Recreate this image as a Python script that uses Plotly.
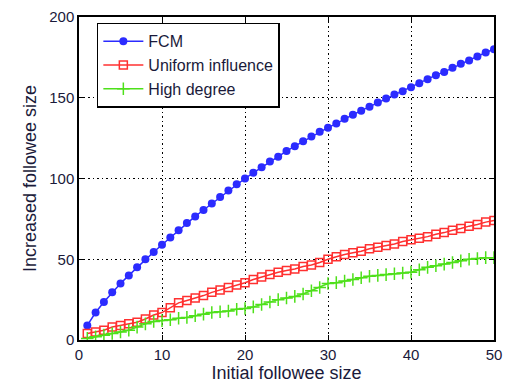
import plotly.graph_objects as go

x_vals = list(range(1, 51))

fcm = [9, 17, 23.5, 29.5, 35, 40, 45, 50, 54.5, 59,
       63.5, 68, 72.5, 76.5, 80.5, 84.5, 88.5, 92.5, 96.5, 100,
       103.5, 107, 110.5, 113.5, 117, 120, 123, 126, 129, 131.5,
       134, 137, 139.5, 142, 144.5, 147, 149.5, 152, 154, 156.5,
       159, 161.5, 164, 166, 168.5, 171, 173, 175.5, 178, 180]

uniform = [4, 5, 6, 8, 9, 10, 11, 13, 15.5, 17,
           20, 23, 24.5, 26, 27.5, 29.5, 31, 32.5, 34, 35.5,
           37.5, 39, 40.5, 42, 43, 44, 45.5, 46.5, 48, 50,
           51.5, 53, 54, 55, 56.5, 57.5, 58.5, 59.5, 61, 62,
           63, 64, 65.5, 66.5, 68, 69, 70.5, 71.5, 73, 74]

high_degree = [1, 2, 3, 4, 5, 6, 8, 10, 11.5, 12,
               12.5, 13.5, 14, 15, 16, 17, 17.5, 18, 19, 19.5,
               20.5, 22, 23.5, 25, 26, 27, 28.5, 30.5, 32.5, 35,
               35.5, 36.5, 37.5, 38.5, 39.5, 40, 40.5, 41, 41.5, 42,
               43.5, 45, 46, 47, 48, 49, 50, 50.5, 51, 51]

x_ticks = [0, 10, 20, 30, 40, 50]
y_ticks = [0, 50, 100, 150, 200]

FONT = "Liberation Sans, Arial, sans-serif"
TXT = "#1a1a3a"

fig = go.Figure()
fig.add_trace(go.Scatter(
    x=x_vals, y=fcm, name="FCM", mode="lines+markers", legendgroup="a",
    line=dict(color="#2b2bff", width=1.5),
    marker=dict(symbol="circle", size=8, color="#2b2bff"),
))
fig.add_trace(go.Scatter(
    x=x_vals, y=uniform, name="Uniform influence", mode="lines+markers", legendgroup="b",
    line=dict(color="#ff3030", width=1.5),
    marker=dict(symbol="square-open", size=8, color="#ff3030", line=dict(width=1.5)),
))
fig.add_trace(go.Scatter(
    x=x_vals, y=high_degree, name="High degree", mode="lines+markers", legendgroup="c",
    line=dict(color="#4ee01a", width=1.5),
    marker=dict(symbol="cross-thin-open", size=9, color="#4ee01a", line=dict(width=1.5, color="#4ee01a")),
))

axis_common = dict(
    showline=True, linecolor="black", linewidth=1.5, mirror="ticks",
    ticks="inside", ticklen=5, tickcolor="black", tickwidth=1,
    showgrid=True, gridcolor="black", gridwidth=1, griddash="2px,3px,1px,3px",
    zeroline=False,
    tickfont=dict(family=FONT, size=15, color=TXT),
)

fig.update_xaxes(range=[0, 50], tickvals=x_ticks,
                 title=dict(text="Initial followee size", standoff=3,
                            font=dict(family=FONT, size=18, color=TXT)),
                 **axis_common)
fig.update_yaxes(range=[0, 200], tickvals=y_ticks,
                 title=dict(text="Increased followee size", standoff=8,
                            font=dict(family=FONT, size=18, color=TXT)),
                 **axis_common)

fig.update_layout(
    width=510, height=386,
    margin=dict(l=79, r=8, t=15, b=44),
    plot_bgcolor="white", paper_bgcolor="white",
    showlegend=True,
    legend=dict(
        x=0.043, y=0.982, xanchor="left", yanchor="top",
        bgcolor="white", bordercolor="black", borderwidth=1.5,
        font=dict(family=FONT, size=16, color=TXT),
        tracegroupgap=0, itemwidth=40,
    ),
)

fig.write_html("out.html")
